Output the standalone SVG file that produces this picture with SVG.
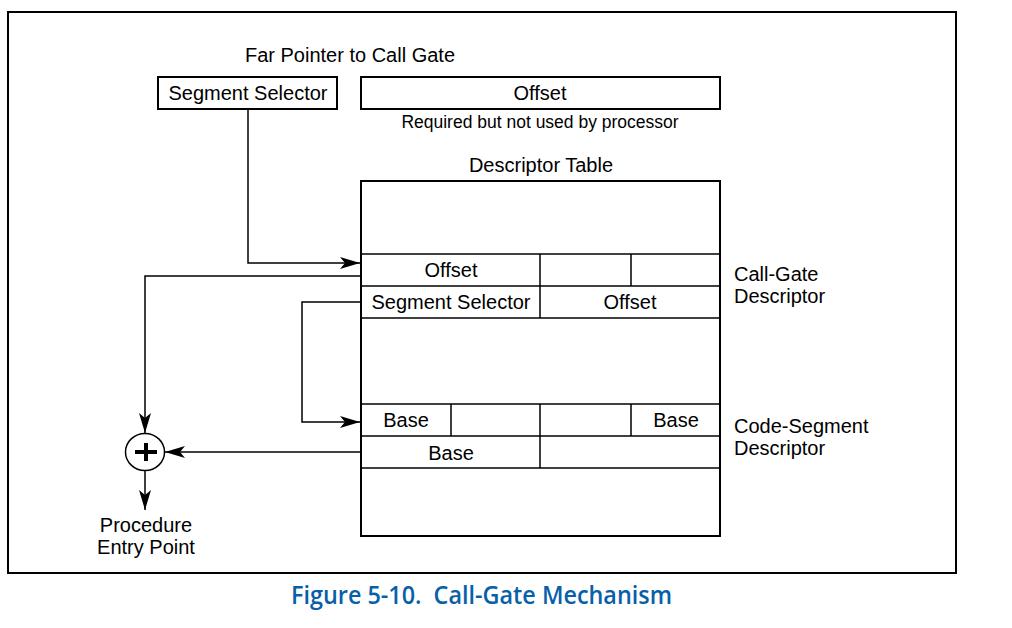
<svg xmlns="http://www.w3.org/2000/svg" width="1012" height="628" viewBox="0 0 1012 628">
<style>
.t{font-family:"Liberation Sans",Arial,sans-serif;font-size:20px;fill:#000}
.s{font-family:"Liberation Sans",Arial,sans-serif;font-size:17.5px;fill:#000}
.box{fill:#fff;stroke:#000;stroke-width:2}
.ln{stroke:#000;stroke-width:1.5;fill:none}
.cap{font-family:"Open Sans","Noto Sans",sans-serif;font-size:25px;font-weight:600;fill:#0860A8;white-space:pre}
</style>
<defs>
<marker id="ah" viewBox="0 0 20 12" refX="20" refY="6" markerWidth="20" markerHeight="12" markerUnits="userSpaceOnUse" orient="auto">
<path d="M0,0 L20,6 L0,12 L5,6 Z" fill="#000"/>
</marker>
</defs>
<rect x="0" y="0" width="1012" height="628" fill="#fff"/>
<rect x="8" y="12" width="948" height="561" fill="none" stroke="#000" stroke-width="2"/>
<g id="farptr">
<text class="t" x="350" y="62" text-anchor="middle">Far Pointer to Call Gate</text>
<g id="segsel"><rect class="box" x="158" y="77" width="179" height="32"/><text class="t" x="248" y="100" text-anchor="middle">Segment Selector</text></g>
<g id="offset"><rect class="box" x="361" y="77" width="359" height="32"/><text class="t" x="540" y="100" text-anchor="middle">Offset</text></g>
<text class="s" x="540" y="128" text-anchor="middle">Required but not used by processor</text>
</g>
<g id="table">
<text class="t" x="541" y="172" text-anchor="middle">Descriptor Table</text>
<rect class="box" x="361" y="181" width="359" height="355"/>
<g class="ln">
<line x1="361" y1="254" x2="720" y2="254"/>
<line x1="361" y1="286" x2="720" y2="286"/>
<line x1="361" y1="318" x2="720" y2="318"/>
<line x1="361" y1="404" x2="720" y2="404"/>
<line x1="361" y1="436" x2="720" y2="436"/>
<line x1="361" y1="468" x2="720" y2="468"/>
<line x1="540" y1="254" x2="540" y2="318"/>
<line x1="631" y1="254" x2="631" y2="286"/>
<line x1="451" y1="404" x2="451" y2="436"/>
<line x1="540" y1="404" x2="540" y2="468"/>
<line x1="631" y1="404" x2="631" y2="436"/>
</g>
<text class="t" x="451" y="277" text-anchor="middle">Offset</text>
<text class="t" x="451" y="309" text-anchor="middle">Segment Selector</text>
<text class="t" x="630" y="309" text-anchor="middle">Offset</text>
<text class="t" x="406" y="427" text-anchor="middle">Base</text>
<text class="t" x="676" y="427" text-anchor="middle">Base</text>
<text class="t" x="451" y="460" text-anchor="middle">Base</text>
</g>
<g id="callgate-label"><text class="t" x="734" y="281">Call-Gate</text><text class="t" x="734" y="303">Descriptor</text></g>
<g id="codeseg-label"><text class="t" x="734" y="433">Code-Segment</text><text class="t" x="734" y="455">Descriptor</text></g>
<g id="adder">
<ellipse cx="145" cy="452" rx="19.5" ry="18.5" fill="#fff" stroke="#000" stroke-width="1.5"/>
<path d="M146,443 V461 M135,452 H157" stroke="#000" stroke-width="4"/>
</g>
<g id="entry"><text class="t" x="146" y="532" text-anchor="middle">Procedure</text><text class="t" x="146" y="554" text-anchor="middle">Entry Point</text></g>
<g id="connectors" class="ln">
<path d="M248,109 V263 H360" marker-end="url(#ah)"/>
<path d="M361,276 H145 V433" marker-end="url(#ah)"/>
<path d="M361,302 H302 V422 H360" marker-end="url(#ah)"/>
<path d="M361,452 H165" marker-end="url(#ah)"/>
<path d="M145,471 V510" marker-end="url(#ah)"/>
</g>
<text class="cap" x="291" y="604" textLength="381" lengthAdjust="spacingAndGlyphs" xml:space="preserve">Figure 5-10.  Call-Gate Mechanism</text>
</svg>
